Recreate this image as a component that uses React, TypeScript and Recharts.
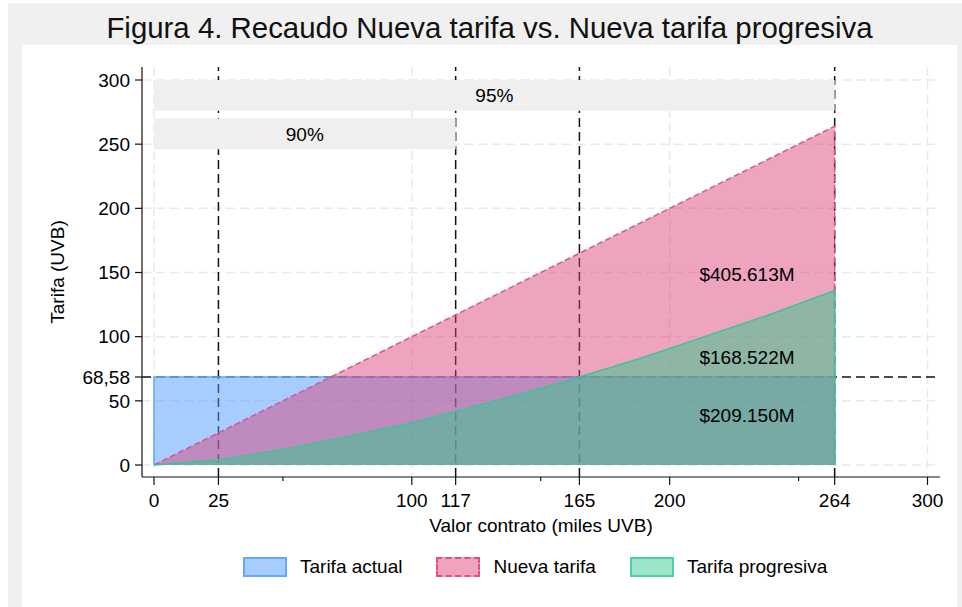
import {
  ComposedChart,
  Area,
  XAxis,
  YAxis,
  CartesianGrid,
  ReferenceLine,
  ReferenceArea,
  ReferenceDot,
  Label
} from "recharts"

const FONT = "'Liberation Sans', Arial, Helvetica, sans-serif"

// ejes
const xMajor = [0, 25, 100, 117, 165, 200, 264, 300]
const xMinor = [50, 150, 250]
const yTicks = [0, 50, 68.58, 100, 150, 200, 250, 300]
const gridY = [0, 50, 100, 150, 200, 250, 300]
const gridX = [0, 100, 200, 300]
const cortesX = [25, 117, 165, 264]
const tarifaFija = 68.58

// series (valor contrato en miles UVB -> tarifa en UVB)
const actualX = [0, 0, 264, 264]
const actualY = [0, 68.58, 68.58, 0]
const nuevaX = [0, 25, 117, 165, 200, 264, 264]
const nuevaY = [0, 25, 117, 165, 200, 264, 0]
const progX = [0, 25, 50, 75, 100, 117, 140, 165, 190, 215, 240, 264, 264]
const progY = [0, 4, 12, 22, 33, 42, 54, 68.58, 84, 101, 118, 136, 0]

// bandas de percentiles
const bandaTxt = ["95%", "90%"]
const bandaDesde = [276, 246]
const bandaHasta = [300, 270]
const bandaFin = [264, 117]

// montos de recaudo
const montoTxt = ["$405.613M", "$168.522M", "$209.150M"]
const montoX = [230, 230, 230]
const montoY = [149, 84, 39]

const leyenda = ["Tarifa actual", "Nueva tarifa", "Tarifa progresiva"]
const rellenos = ["#a6cdfd", "#f0a3bf", "#9be6cb"]
const bordes = ["#63a9fb", "#e0507f", "#4fd09f"]
const estilos = ["solid", "dashed", "solid"]

const pts = (xs: number[], ys: number[]) => xs.map((x, i) => ({ x, y: ys[i] }))

const XTick = (props: any) => {
  const { x, y, payload } = props
  const major = xMajor.includes(payload.value)
  return (
    <g>
      <line x1={x} x2={x} y1={y} y2={y + (major ? 8 : 4)} stroke="#111" strokeWidth={1.2} />
      {major && (
        <text x={x} y={y + 30} textAnchor="middle" fontSize={19} fill="#000" fontFamily={FONT}>
          {payload.value}
        </text>
      )}
    </g>
  )
}

export default function App() {
  return (
    <div>
      <div style={{ position: "absolute", left: 8, top: 3, width: 954, height: 604, background: "#f0f0f0" }} />
      <div style={{ position: "absolute", left: 22, top: 45, width: 935, height: 562, background: "#fff" }} />
      <div
        style={{
          position: "absolute",
          left: 8,
          top: 11,
          width: 963,
          textAlign: "center",
          fontFamily: FONT,
          fontSize: 29.4,
          lineHeight: "33px",
          color: "#111"
        }}
      >
        Figura 4. Recaudo Nueva tarifa vs. Nueva tarifa progresiva
      </div>

      <div style={{ position: "absolute", left: 0, top: 0 }}>
        <ComposedChart width={962} height={607} margin={{ top: 67, right: 22, bottom: 0, left: 0 }}>
          <CartesianGrid
            horizontalValues={gridY}
            verticalValues={gridX}
            stroke="#e9e9e9"
            strokeWidth={1.5}
            strokeDasharray="9 5"
          />
          <XAxis
            type="number"
            dataKey="x"
            domain={[-4.65, 304.85]}
            allowDataOverflow
            ticks={[...xMajor, ...xMinor].sort((a, b) => a - b)}
            interval={0}
            height={130}
            tickSize={0}
            tickMargin={0}
            tick={<XTick />}
            axisLine={{ stroke: "#111", strokeWidth: 1.2 }}
          >
            <Label
              content={(p: any) => (
                <text
                  x={p.viewBox.x + p.viewBox.width / 2}
                  y={p.viewBox.y + 55}
                  textAnchor="middle"
                  fontSize={19}
                  fontFamily={FONT}
                  fill="#000"
                >
                  Valor contrato (miles UVB)
                </text>
              )}
            />
          </XAxis>
          <YAxis
            type="number"
            domain={[-9.35, 310.13]}
            allowDataOverflow
            ticks={yTicks}
            interval={0}
            width={142}
            tickSize={7}
            tickMargin={5}
            tickLine={{ stroke: "#111", strokeWidth: 1.2 }}
            axisLine={{ stroke: "#111", strokeWidth: 1.2 }}
            tick={{ fill: "#000", fontSize: 19, fontFamily: FONT }}
            tickFormatter={(v: number) => (v === tarifaFija ? "68,58" : String(v))}
          >
            <Label
              content={(p: any) => {
                const cx = p.viewBox.x + 57
                const cy = p.viewBox.y + p.viewBox.height / 2
                return (
                  <text
                    x={cx}
                    y={cy}
                    transform={`rotate(-90 ${cx} ${cy})`}
                    textAnchor="middle"
                    dominantBaseline="central"
                    fontSize={19}
                    fontFamily={FONT}
                    fill="#000"
                  >
                    Tarifa (UVB)
                  </text>
                )
              }}
            />
          </YAxis>

          {cortesX.map((v) => (
            <ReferenceLine key={v} x={v} stroke="#111" strokeWidth={1.5} strokeDasharray="9 5" zIndex={10} />
          ))}
          <ReferenceLine y={tarifaFija} stroke="#111" strokeWidth={1.5} strokeDasharray="9 5" zIndex={10} />

          {bandaTxt.map((t, i) => (
            <ReferenceArea
              key={t}
              x1={0}
              x2={bandaFin[i]}
              y1={bandaDesde[i]}
              y2={bandaHasta[i]}
              fill="#efefef"
              fillOpacity={1}
              stroke="none"
              zIndex={20}
              label={{ value: t, position: "center", fill: "#000", fontSize: 19, fontFamily: FONT }}
            />
          ))}

          <Area
            data={pts(actualX, actualY)}
            dataKey="y"
            type="linear"
            baseValue={0}
            fill="#4d9bfb"
            fillOpacity={0.5}
            stroke="#63a9fb"
            strokeWidth={1.5}
            dot={false}
            activeDot={false}
            isAnimationActive={false}
          />
          <Area
            data={pts(nuevaX, nuevaY)}
            dataKey="y"
            type="linear"
            baseValue={0}
            fill="#dc417a"
            fillOpacity={0.48}
            stroke="#d6588a"
            strokeWidth={1.5}
            strokeDasharray="6 3"
            dot={false}
            activeDot={false}
            isAnimationActive={false}
          />
          <Area
            data={pts(progX, progY)}
            dataKey="y"
            type="linear"
            baseValue={0}
            fill="#30c78b"
            fillOpacity={0.5}
            stroke="#3cc39a"
            strokeWidth={1.5}
            dot={false}
            activeDot={false}
            isAnimationActive={false}
          />

          {montoTxt.map((t, i) => (
            <ReferenceDot
              key={t}
              x={montoX[i]}
              y={montoY[i]}
              r={0}
              fill="none"
              stroke="none"
              label={{ value: t, position: "center", fill: "#000", fontSize: 19, fontFamily: FONT }}
            />
          ))}
        </ComposedChart>
      </div>

      <div
        style={{
          position: "absolute",
          left: 243,
          top: 556,
          display: "flex",
          alignItems: "center",
          fontFamily: FONT,
          fontSize: 19,
          color: "#000"
        }}
      >
        {leyenda.map((n, i) => (
          <div key={n} style={{ display: "flex", alignItems: "center", marginRight: 34 }}>
            <div
              style={{
                width: 40,
                height: 16,
                background: rellenos[i],
                border: `2px ${estilos[i]} ${bordes[i]}`,
                marginRight: 13
              }}
            />
            <span>{n}</span>
          </div>
        ))}
      </div>
    </div>
  )
}
